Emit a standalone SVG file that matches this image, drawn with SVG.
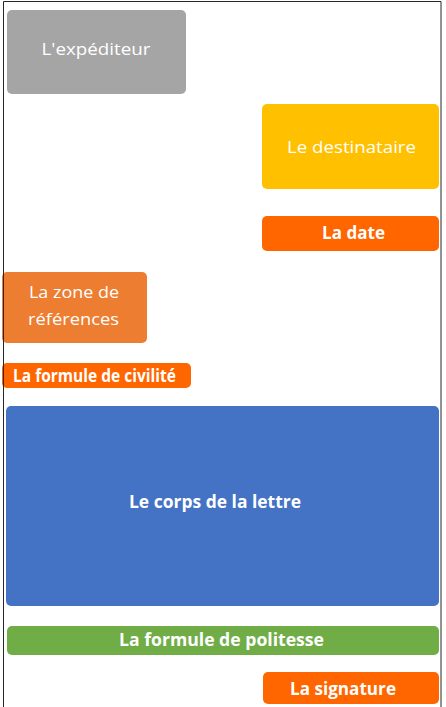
<svg xmlns="http://www.w3.org/2000/svg" width="446" height="707" viewBox="0 0 446 707">
<style>
.n{font-family:"Open Sans","Liberation Sans",sans-serif;font-size:17px;fill:#fff;text-anchor:middle}
.b{font-weight:bold}
</style>
<rect width="446" height="707" fill="#fff"/>
<g id="connectors"/>
<g id="expediteur"><rect x="7" y="10" width="179" height="84" rx="5" fill="#a5a5a5"/><text class="n" x="96" y="55" textLength="109" lengthAdjust="spacingAndGlyphs">L'expéditeur</text></g>
<g id="destinataire"><rect x="262" y="104" width="177" height="85" rx="5" fill="#ffc000"/><text class="n" x="351.5" y="153" textLength="129" lengthAdjust="spacingAndGlyphs">Le destinataire</text></g>
<g id="date"><rect x="262" y="216" width="177" height="35" rx="5" fill="#ff6600"/><text class="n b" x="353.5" y="239" textLength="63" lengthAdjust="spacingAndGlyphs">La date</text></g>
<g id="references"><rect x="2" y="272" width="145" height="71" rx="5" fill="#ed7d31"/><text class="n" x="74" y="298" textLength="90" lengthAdjust="spacingAndGlyphs">La zone de</text><text class="n" x="73.5" y="325" textLength="91" lengthAdjust="spacingAndGlyphs">références</text></g>
<g id="civilite"><rect x="2" y="363" width="189" height="25" rx="5" fill="#ff6600"/><text class="n b" x="94.5" y="382" textLength="163" lengthAdjust="spacingAndGlyphs">La formule de civilité</text></g>
<g id="corps"><rect x="6" y="406" width="433" height="200" rx="5" fill="#4472c4"/><text class="n b" x="215" y="508" textLength="172" lengthAdjust="spacingAndGlyphs">Le corps de la lettre</text></g>
<g id="politesse"><rect x="7" y="626" width="432" height="29" rx="5" fill="#70ad47"/><text class="n b" x="221.5" y="646" textLength="205" lengthAdjust="spacingAndGlyphs">La formule de politesse</text></g>
<g id="signature"><rect x="263" y="672" width="176" height="32" rx="5" fill="#ff6600"/><text class="n b" x="343" y="695" textLength="106" lengthAdjust="spacingAndGlyphs">La signature</text></g>
<path d="M3.5 707V1.5H441V707" fill="none" stroke="#262626" stroke-width="1"/>
</svg>
